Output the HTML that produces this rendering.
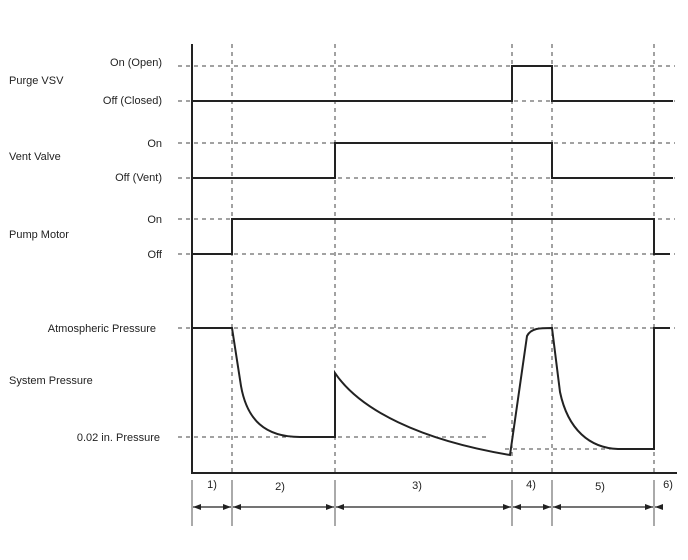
<!DOCTYPE html>
<html><head><style>body{margin:0;background:#fff}svg{display:block}text{font-family:"Liberation Sans",Arial,sans-serif;font-size:11px;fill:#222}</style></head><body>
<svg width="688" height="560" viewBox="0 0 688 560" xmlns="http://www.w3.org/2000/svg">
<defs><marker id="a" markerWidth="8" markerHeight="6" refX="8" refY="3" orient="auto-start-reverse" markerUnits="userSpaceOnUse"><path d="M0,0L8,3L0,6z" fill="#222"/></marker></defs>
<g stroke="#444" stroke-width="1" stroke-dasharray="4,4" fill="none">
<line x1="178" y1="66" x2="675" y2="66"/><line x1="178" y1="101" x2="675" y2="101"/>
<line x1="178" y1="143" x2="675" y2="143"/><line x1="178" y1="178" x2="675" y2="178"/>
<line x1="178" y1="219" x2="675" y2="219"/><line x1="178" y1="254" x2="675" y2="254"/>
<line x1="178" y1="328" x2="675" y2="328"/><line x1="178" y1="437" x2="487" y2="437"/>
<line x1="505" y1="449" x2="654" y2="449"/>
<line x1="232" y1="44" x2="232" y2="473"/><line x1="335" y1="44" x2="335" y2="473"/>
<line x1="512" y1="44" x2="512" y2="473"/><line x1="552" y1="44" x2="552" y2="473"/>
<line x1="654" y1="44" x2="654" y2="473"/>
</g>
<g stroke="#222" stroke-width="2" fill="none">
<path d="M192,44V473H677"/>
<path d="M192,101H512V66H552V101H673"/>
<path d="M192,178H335V143H552V178H673"/>
<path d="M192,254H232V219H654V254H670"/>
<path d="M192,328H232L241,386C247,420 265,437 300,437H335V373C360,410 420,440 510,455L527,336C531,328 540,328 552,328L560,392C568,430 590,448 618,449H654V328H670"/>
</g>
<g stroke="#555" stroke-width="1">
<line x1="192" y1="480" x2="192" y2="526"/><line x1="232" y1="480" x2="232" y2="526"/>
<line x1="335" y1="480" x2="335" y2="526"/><line x1="512" y1="480" x2="512" y2="526"/>
<line x1="552" y1="480" x2="552" y2="526"/><line x1="654" y1="480" x2="654" y2="526"/>
</g>
<g stroke="#222" stroke-width="1.2" marker-start="url(#a)" marker-end="url(#a)">
<line x1="193" y1="507" x2="231" y2="507"/><line x1="233" y1="507" x2="334" y2="507"/>
<line x1="336" y1="507" x2="511" y2="507"/><line x1="513" y1="507" x2="551" y2="507"/>
<line x1="553" y1="507" x2="653" y2="507"/>
</g>
<line x1="663" y1="507" x2="655" y2="507" stroke="#222" stroke-width="1.2" marker-end="url(#a)"/>
<g text-anchor="end">
<text x="162" y="66">On (Open)</text><text x="162" y="104">Off (Closed)</text>
<text x="162" y="147">On</text><text x="162" y="181">Off (Vent)</text>
<text x="162" y="223">On</text><text x="162" y="258">Off</text>
<text x="156" y="332">Atmospheric Pressure</text><text x="160" y="441">0.02 in. Pressure</text>
</g>
<text x="9" y="84">Purge VSV</text><text x="9" y="160">Vent Valve</text>
<text x="9" y="238">Pump Motor</text><text x="9" y="384">System Pressure</text>
<g text-anchor="middle">
<text x="212" y="488">1)</text><text x="280" y="490">2)</text><text x="417" y="489">3)</text>
<text x="531" y="488">4)</text><text x="600" y="490">5)</text><text x="668" y="488">6)</text>
</g>
</svg>
</body></html>
